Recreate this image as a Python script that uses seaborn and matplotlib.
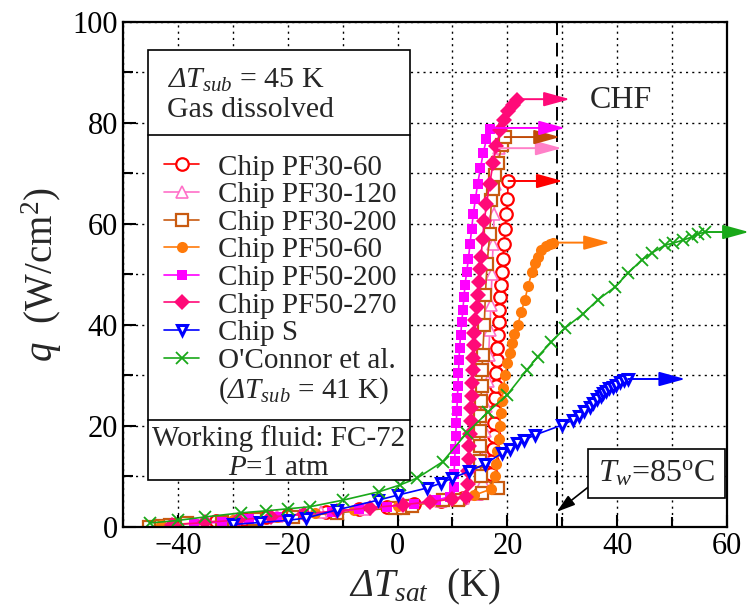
import numpy as np
import pandas as pd
import matplotlib
matplotlib.use("Agg")
import matplotlib.pyplot as plt
import seaborn as sns
from matplotlib.patches import Rectangle
from matplotlib.lines import Line2D

sns.set_theme(style="ticks")
plt.rcParams["font.family"] = ["Liberation Serif", "DejaVu Serif"]
# italic Greek capitals (Delta) need an italic "rm"; upright glyphs go through \mathsf
plt.rcParams["mathtext.fontset"] = "custom"
plt.rcParams["mathtext.rm"] = "Liberation Serif:italic"
plt.rcParams["mathtext.it"] = "Liberation Serif:italic"
plt.rcParams["mathtext.sf"] = "Liberation Serif"
plt.rcParams["mathtext.bf"] = "Liberation Serif:bold"

# --- data (dT_sat in K, q in W/cm2) ---
pf30_60_x = [-44, -41, -38, -33, -28, -24, -20, -13, -7, -2, 3, 8, 12, 15, 16.5, 17, 17.2, 17.4,
             17.5, 17.6, 17.7, 17.8, 17.9, 18.0, 18.1, 18.2, 18.3, 18.4, 18.5, 18.6, 18.8, 19.0,
             19.2, 19.4, 19.6, 19.8, 20.0, 20.2]
pf30_60_q = [0.2, 0.4, 0.7, 1.1, 1.5, 2.0, 2.4, 3.0, 3.6, 4.0, 4.6, 5.2, 5.8, 6.8, 8.5, 10.5, 13,
             15.5, 18, 20.5, 23, 25.5, 28, 30.5, 33, 35.5, 38, 40.5, 43, 45.5, 48, 50.5, 53, 56,
             59, 62, 65, 68.5]

pf30_120_x = [-44, -38, -30, -22, -14, -6, 2, 8, 12, 14.5, 15.5, 15.8, 16, 16.2, 16.4, 16.6, 16.8,
              17, 17.2, 17.4, 17.6, 17.8, 18.5]
pf30_120_q = [0.3, 0.8, 1.4, 2.1, 2.9, 3.6, 4.4, 5.1, 5.7, 6.5, 9, 14, 19, 24, 29, 34, 39, 44, 50,
              56, 62, 68, 75]

pf30_200_x = [-45.3, -43, -41.5, -38.3, -32, -26, -19, -11, -0.5, 1, 2.7, 8.2, 11, 15.3, 18.3,
              15.2, 15.1, 15.0, 15.0, 15.1, 15.2, 15.3, 15.4, 15.5, 15.8, 16.0, 16.3, 16.8, 17.1,
              17.4, 17.7, 18.3, 19.0, 19.5]
pf30_200_q = [0.0, 0.2, 0.4, 0.7, 1.0, 1.6, 2.0, 2.8, 3.8, 3.8, 4.2, 5.3, 5.3, 6.7, 7.7, 10, 13,
              16, 19, 22, 25, 28, 31, 34, 40, 46, 52, 58, 64.8, 67, 69.7, 72, 75.6, 77.2]

pf50_60_x = [-43, -37, -30, -22, -15, -8, 0, 6, 10, 14, 17, 17.8, 18.0, 18.2, 18.4, 18.6, 18.8,
             19.0, 19.3, 19.6, 20.0, 20.4, 20.8, 21.3, 21.9, 22.5, 23.2, 23.8, 24.5, 25.0, 25.5,
             26.2, 27.0, 27.7, 28.3]
pf50_60_q = [0.3, 0.8, 1.3, 2.0, 2.7, 3.4, 4.2, 4.9, 5.6, 6.3, 7.5, 10, 12.5, 15, 17.5, 20, 22.5,
             25, 27.5, 30, 32.5, 34.5, 36.4, 38.2, 40, 42.5, 45, 47.8, 50.5, 52.2, 53.5, 54.8,
             55.6, 56.1, 56.3]

pf50_200_x = [-37, -32, -27, -22, -17, -12, -7, -2, 3, 7, 9.5, 10.2, 10.3, 10.4, 10.5, 10.6, 10.7,
              10.8, 10.9, 11.0, 11.1, 11.2, 11.3, 11.5, 11.7, 11.9, 12.1, 12.3, 12.6, 12.9, 13.2,
              13.5, 13.8, 14.2, 14.6, 15.1, 15.6, 16.2, 16.9]
pf50_200_q = [0.6, 1.0, 1.5, 2.0, 2.5, 3.0, 3.5, 4.0, 4.6, 5.3, 6.0, 8, 10.5, 13, 15.5, 18, 20.5,
              23, 25.5, 28, 30.5, 33, 35.5, 38, 40.5, 43, 45.5, 48, 50.5, 53, 56, 59, 62, 65, 68,
              71, 74, 76.8, 78.8]

pf50_270_x = [-41, -35, -29, -23, -17, -11, -5, 1, 6, 10, 12.5, 12.8, 12.9, 13.0, 13.1, 13.2, 13.3,
              13.4, 13.5, 13.6, 13.7, 13.8, 13.9, 14.0, 14.2, 14.4, 14.6, 14.8, 15.0, 15.2, 15.5,
              15.8, 16.2, 16.8, 17.4, 18.0, 18.7, 19.4, 20.2, 21.0, 21.7]
pf50_270_q = [0.4, 0.9, 1.4, 2.0, 2.6, 3.2, 3.8, 4.4, 5.0, 5.6, 6.0, 8.5, 11, 13.5, 16, 18.5, 21,
              23.5, 26, 28.5, 31, 33.5, 36, 38.5, 41, 43.5, 46, 48.5, 51, 53.5, 57, 60.5, 64, 68,
              72, 75.5, 78.5, 80.5, 82.3, 83.5, 84.5]

chip_s_x = [-30, -25, -20, -16.6, -11, -3.6, 0, 5.3, 8, 10, 13, 16, 19, 20.5, 21.7, 23, 25, 30,
            32, 33, 34, 35, 35.6, 36.3, 37, 37.4, 38, 38.6, 39.2, 39.8, 40.5, 41.2, 42]
chip_s_q = [0.5, 0.9, 1.3, 1.8, 3.4, 5.3, 6.3, 7.7, 8.7, 9.7, 11, 12.5, 14.6, 15.5, 16.6, 17.2,
            18.2, 20.2, 21.2, 22, 23, 23.8, 24.5, 25.3, 26, 26.5, 27, 27.5, 27.8, 28.2, 28.7,
            29.1, 29.3]

oconnor_x = [-45, -40, -35, -28.5, -24, -20, -16, -10, -3.3, 0.4, 3.6, 8.2, 12.6, 16.5, 20, 23.5,
             25.5, 28, 30.5, 33.8, 36.5, 39.6, 42, 44.5, 46.4, 48.7, 50.2, 52, 53.6, 54.7, 56]
oconnor_q = [0.8, 1.3, 2.0, 2.8, 3.2, 3.6, 4.0, 5.3, 7.0, 8.3, 9.7, 12.9, 18.6, 22.8, 26.2, 31,
             33.7, 36.6, 39.4, 42.2, 45, 47.5, 50.3, 52.9, 54.3, 55.8, 56.2, 56.8, 57.4, 58, 58.4]

labels = ["Chip PF30-60", "Chip PF30-120", "Chip PF30-200", "Chip PF50-60",
          "Chip PF50-200", "Chip PF50-270", "Chip S", "O'Connor et al."]
oconnor_note = r"($\Delta T_{sub}$ = 41 K)"
xs = [pf30_60_x, pf30_120_x, pf30_200_x, pf50_60_x, pf50_200_x, pf50_270_x, chip_s_x, oconnor_x]
qs = [pf30_60_q, pf30_120_q, pf30_200_q, pf50_60_q, pf50_200_q, pf50_270_q, chip_s_q, oconnor_q]

# CHF arrows: end of each arrow (x) for each series, arrow starts at the last point
chf_arrow_end = [30.1, 29.9, 29.6, 38.7, 30.5, 31.4, 52.4, 64.0]
chf_arrow_q = [68.5, 75.0, 77.2, 56.3, 79.0, 84.7, 29.3, 58.4]

colors = ["#ff0000", "#ff70c8", "#c85a10", "#ff7a0a", "#ff00ff", "#ff0a78", "#0000ff", "#19a819"]
arrow_colors = ["#ff0000", "#ff80c8", "#c04a08", "#ff7a0a", "#ff00ff", "#ff0a78", "#0000ff", "#19a819"]
styles = [
    dict(marker="o", mfc="white", ms=9, mew=1.6),
    dict(marker="^", mfc="white", ms=8, mew=1.2),
    dict(marker="s", mfc="white", ms=8.5, mew=1.6),
    dict(marker="o", ms=8, mew=0),
    dict(marker="s", ms=7.5, mew=0),
    dict(marker="D", ms=8, mew=0),
    dict(marker="v", mfc="white", ms=7.5, mew=2.2),
    dict(marker="x", ms=9, mew=1.3),
]
draw_order = [7, 6, 3, 4, 5, 1, 0, 2]

fig = plt.figure(figsize=(7.48, 6.13), dpi=100)
ax = fig.add_axes([0.1644, 0.1403, 0.8075, 0.824])

handles = {}
for i in draw_order:
    df = pd.DataFrame({"x": xs[i], "q": qs[i]})
    st = styles[i]
    sns.lineplot(data=df, x="x", y="q", ax=ax, sort=False, estimator=None, color=colors[i],
                 lw=1.2, marker=st["marker"], markersize=st["ms"], markeredgewidth=st["mew"],
                 markerfacecolor=st.get("mfc", colors[i]), markeredgecolor=colors[i], zorder=2 + 0.01 * i)
    handles[i] = ax.lines[-1]

for i in range(len(labels)):
    ax.annotate("", xy=(chf_arrow_end[i], chf_arrow_q[i]), xytext=(xs[i][-1], chf_arrow_q[i]),
                annotation_clip=False,
                arrowprops=dict(arrowstyle="-|>,head_length=0.8,head_width=0.22", color=arrow_colors[i],
                                lw=1.4, mutation_scale=20, shrinkA=0, shrinkB=0, clip_on=False))

ax.axvline(29, color="black", lw=1.4, dashes=(7, 4), zorder=1.5)

ax.set_xlim(-50, 60)
ax.set_ylim(0, 100)
ax.set_xticks([-40, -20, 0, 20, 40, 60])
ax.set_xticks(np.arange(-50, 61, 10), minor=True)
ax.set_yticks([0, 20, 40, 60, 80, 100])
ax.set_yticks(np.arange(0, 101, 10), minor=True)
ax.grid(which="both", color="black", ls=(0, (1.5, 3)), lw=1.0)
ax.tick_params(which="both", direction="in", labelsize=22, width=1.5, colors="black",
               top=False, right=False)
ax.tick_params(which="major", length=9)
ax.tick_params(which="minor", length=7)
for s in ax.spines.values():
    s.set_linewidth(1.6)
    s.set_color("black")

ax.set_xlabel(r"$\Delta T_{sat}$  (K)", fontsize=28, labelpad=4)
ax.set_ylabel(r"$q$  (W/cm$^{\mathsf{2}}$)", fontsize=28, labelpad=6)

# big annotation box with legend
box = Rectangle((0.041, 0.093), 0.434, 0.852, transform=ax.transAxes, facecolor="white",
                edgecolor="black", lw=1.2, zorder=5)
ax.add_patch(box)
for yy in (0.776, 0.212):
    ax.add_line(Line2D([0.041, 0.475], [yy, yy], transform=ax.transAxes, color="black", lw=1.2, zorder=6))
ax.text(0.073, 0.885, r"$\Delta T_{sub}$ = 45 K", transform=ax.transAxes, fontsize=21.5,
        va="center", ha="left", zorder=6)
ax.text(0.073, 0.826, "Gas dissolved", transform=ax.transAxes, fontsize=21.5, va="center", ha="left", zorder=6)
ax.text(0.258, 0.176, "Working fluid: FC-72", transform=ax.transAxes, fontsize=21, va="center",
        ha="center", zorder=6)
ax.text(0.258, 0.117, r"$P$=1 atm", transform=ax.transAxes, fontsize=21, va="center", ha="center", zorder=6)

blank = Line2D([], [], ls="none", marker=None)
leg = ax.legend([handles[i] for i in range(len(labels))] + [blank], labels + [oconnor_note],
                loc="upper left", bbox_to_anchor=(0.068, 0.738), frameon=False, fontsize=21,
                borderpad=0, borderaxespad=0, handlelength=1.2, handletextpad=0.65, labelspacing=0.04)
leg.set_zorder(7)

ax.text(40.7, 84.5, "CHF", fontsize=23, ha="center", va="center", zorder=6,
        bbox=dict(facecolor="white", edgecolor="none", pad=4))

ax.annotate(r"$T_w$=85$^{\mathsf{o}}$C", xy=(29, 3), xytext=(47.2, 10.6), fontsize=23, ha="center",
            va="center", zorder=6,
            bbox=dict(boxstyle="square,pad=0.3", facecolor="white", edgecolor="black", lw=1.2),
            arrowprops=dict(arrowstyle="-|>,head_length=0.8,head_width=0.25", color="black", lw=1.2,
                            mutation_scale=14, shrinkA=0, shrinkB=0, relpos=(0, 0.3)))

fig.savefig("out.png", dpi=100)
